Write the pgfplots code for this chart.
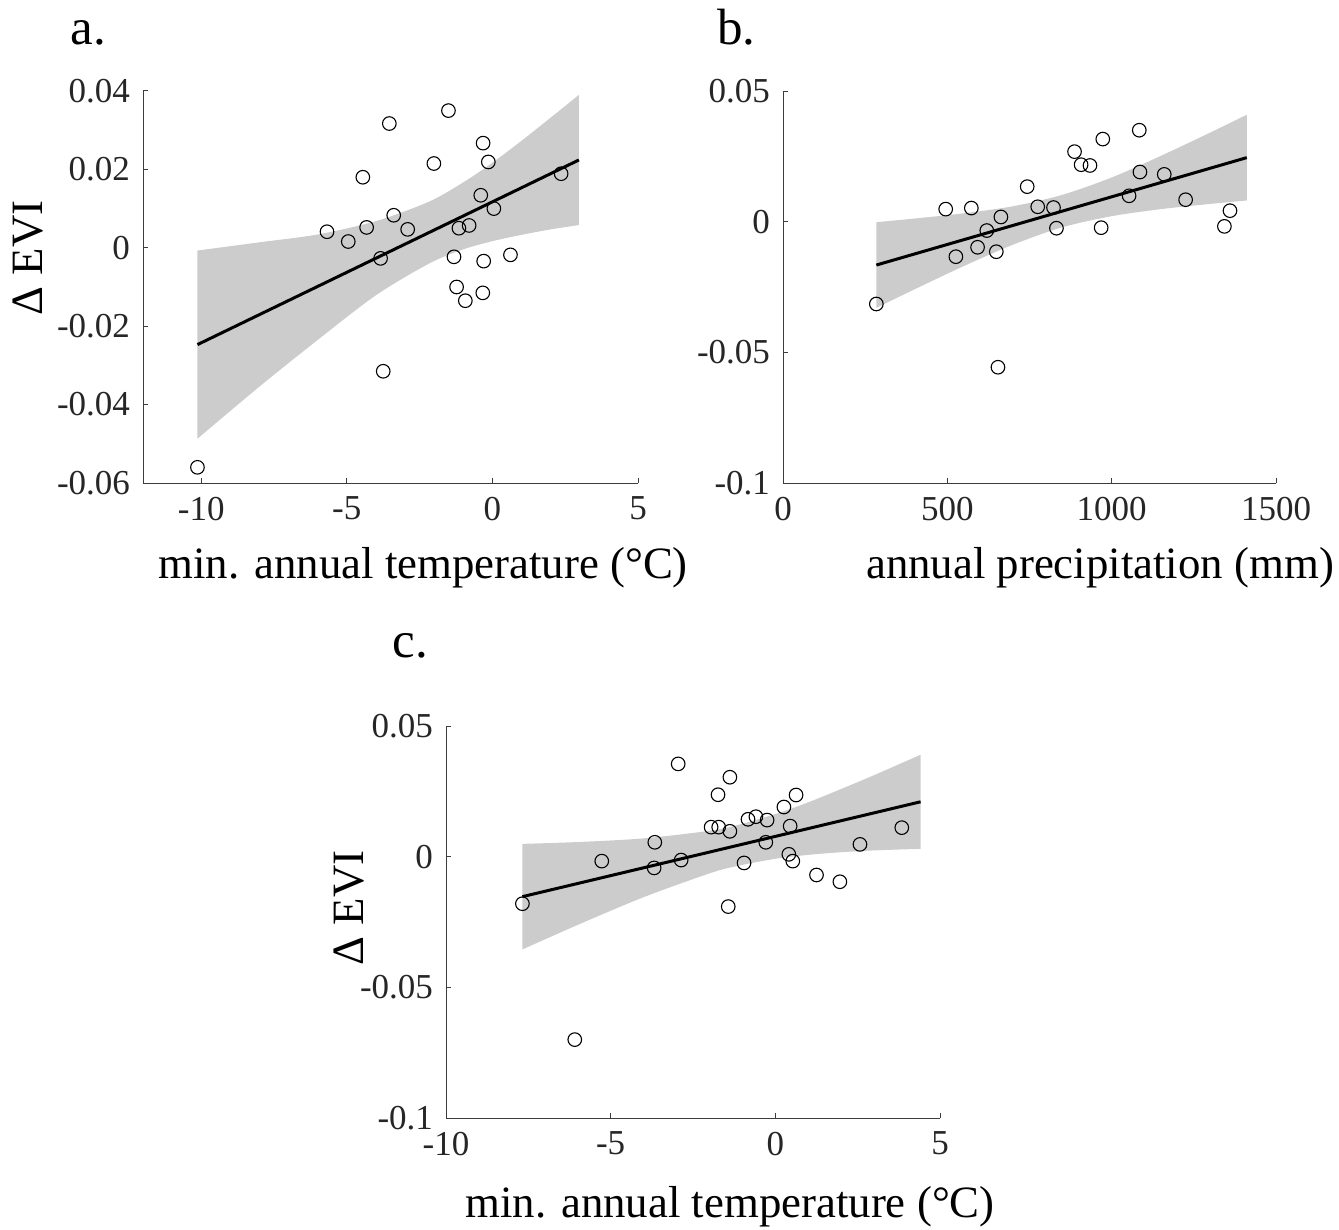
\documentclass[border=0pt]{standalone}
\usepackage{fontspec}
\setmainfont{Liberation Serif}
\usepackage{pgfplots}
\pgfplotsset{compat=1.18}
\usepgfplotslibrary{fillbetween}
\definecolor{bandgray}{RGB}{204,204,204}
\definecolor{axgray}{RGB}{60,60,60}
\definecolor{tickgray}{RGB}{38,38,38}
\pgfplotsset{
  panel/.style={
    scale only axis,
    height=196pt,
    axis x line*=bottom, axis y line*=left,
    axis line style={-, draw=axgray, line width=0.5pt},
    tick align=inside, major tick length=2.6pt,
    tick style={draw=axgray, line width=0.5pt},
    ticklabel style={font=\fontsize{17.5}{20}\selectfont, text=tickgray},
    xticklabel style={yshift=-3.5pt},
    yticklabel style={xshift=-3pt},
    label style={font=\fontsize{22.4}{26}\selectfont},
    scaled ticks=false,
    ylabel={Δ EVI},
  },
  myband/.style={draw=none, smooth},
  myfit/.style={black, line width=1.5pt},
  mypts/.style={only marks, mark=o, mark size=3.4pt, mark options={black, line width=0.55pt}},
}
\begin{document}
\begin{tikzpicture}

\node[anchor=base west, inner sep=0pt, font=\fontsize{25.5}{28}\selectfont] at (35pt,-22.5pt) {a.};
\node[anchor=base west, inner sep=0pt, font=\fontsize{25.5}{28}\selectfont] at (358.5pt,-22.5pt) {b.};
\node[anchor=base west, inner sep=0pt, font=\fontsize{25.5}{28}\selectfont] at (196pt,-328.5pt) {c.};

% ---------- panel a ----------
\begin{axis}[panel, at={(71.5pt,-241.5pt)}, anchor=south west, width=247.5pt,
  xmin=-12, xmax=5, ymin=-0.06, ymax=0.04,
  xtick={-10,-5,0,5}, xticklabels={-10,-5,0,5},
  ytick={-0.06,-0.04,-0.02,0,0.02,0.04},
  yticklabels={-0.06,-0.04,-0.02,0,0.02,0.04},
  xlabel={min. annual temperature (°C)},
  xlabel style={at={(axis description cs:0.566,-0.217)}, anchor=center},
  ylabel style={at={(axis description cs:-0.232,0.574)}, anchor=center},
]
\addplot[myband, name path=aup] coordinates {(-10.13,-0.0007) (-8,0.0014) (-6,0.0034) (-4,0.0068) (-2.17,0.0118) (-1,0.0167) (0,0.0217) (1,0.0273) (2,0.0332) (2.97,0.0390)};
\addplot[myband, name path=alo] coordinates {(-10.13,-0.0487) (-8,-0.0354) (-6,-0.0235) (-4,-0.0121) (-2.17,-0.0040) (-1,-0.0004) (0,0.0017) (1,0.0033) (2,0.0047) (2.97,0.0058)};
\addplot[bandgray, draw=none] fill between[of=aup and alo];
\addplot[myfit] coordinates {(-10.13,-0.0247) (2.97,0.0224)};
\addplot[mypts] coordinates {
(-10.13,-0.0560) (-5.68,0.0041) (-4.95,0.0016) (-4.32,0.0052) (-4.45,0.0180)
(-3.54,0.0317) (-3.39,0.0083) (-3.84,-0.0027) (-3.75,-0.0315) (-2.91,0.0047)
(-2.01,0.0215) (-1.51,0.0350) (-1.32,-0.0023) (-1.23,-0.0100) (-1.15,0.0050)
(-0.93,-0.0135) (-0.80,0.0057) (-0.32,0.0267) (-0.14,0.0219) (-0.40,0.0134)
(0.05,0.0100) (-0.30,-0.0034) (-0.33,-0.0115) (0.62,-0.0018) (2.36,0.0189)};
\end{axis}

% ---------- panel b ----------
\begin{axis}[panel, at={(391.5pt,-241.5pt)}, anchor=south west, width=246.5pt,
  xmin=0, xmax=1500, ymin=-0.1, ymax=0.05,
  xtick={0,500,1000,1500}, xticklabels={0,500,1000,1500},
  ytick={-0.1,-0.05,0,0.05}, yticklabels={-0.1,-0.05,0,0.05},
  xlabel={annual precipitation (mm)},
  xlabel style={at={(axis description cs:0.643,-0.217)}, anchor=center},
  ylabel={},
]
\addplot[myband, name path=bup] coordinates {(284,-0.0002) (400,0.0012) (550,0.0032) (700,0.0059) (848,0.0102) (1000,0.0169) (1150,0.0252) (1300,0.0341) (1411,0.0409)};
\addplot[myband, name path=blo] coordinates {(284,-0.0330) (400,-0.0259) (550,-0.0170) (700,-0.0088) (848,-0.0022) (1000,0.0021) (1150,0.0048) (1300,0.0068) (1411,0.0081)};
\addplot[bandgray, draw=none] fill between[of=bup and blo];
\addplot[myfit] coordinates {(284,-0.0166) (1411,0.0245)};
\addplot[mypts] coordinates {
(284,-0.0315) (495,0.0048) (573,0.0052) (526,-0.0134) (592,-0.0098)
(620,-0.0034) (649,-0.0115) (663,0.0018) (654,-0.0557) (743,0.0134)
(775,0.0057) (823,0.0054) (832,-0.0025) (887,0.0268) (907,0.0218)
(934,0.0215) (973,0.0316) (968,-0.0023) (1053,0.0099) (1084,0.0350)
(1086,0.0190) (1160,0.0181) (1225,0.0084) (1343,-0.0018) (1360,0.0042)};
\end{axis}

% ---------- panel c ----------
\begin{axis}[panel, at={(223pt,-559pt)}, anchor=south west, width=247pt,
  xmin=-10, xmax=5, ymin=-0.1, ymax=0.05,
  xtick={-10,-5,0,5}, xticklabels={-10,-5,0,5},
  ytick={-0.1,-0.05,0,0.05}, yticklabels={-0.1,-0.05,0,0.05},
  xlabel={min. annual temperature (°C)},
  xlabel style={at={(axis description cs:0.575,-0.227)}, anchor=center},
  ylabel style={at={(axis description cs:-0.196,0.536)}, anchor=center},
]
\addplot[myband, name path=cup] coordinates {(-7.68,0.0049) (-6,0.0056) (-4,0.0070) (-2,0.0099) (-1.21,0.0119) (0,0.0163) (1,0.0208) (2,0.0259) (3,0.0312) (4.41,0.0390)};
\addplot[myband, name path=clo] coordinates {(-7.68,-0.0355) (-6,-0.0261) (-4,-0.0155) (-2,-0.0064) (-1.21,-0.0037) (0,-0.0008) (1,0.0007) (2,0.0017) (3,0.0024) (4.41,0.0030)};
\addplot[bandgray, draw=none] fill between[of=cup and clo];
\addplot[myfit] coordinates {(-7.68,-0.0153) (4.41,0.0210)};
\addplot[mypts] coordinates {
(-7.68,-0.0180) (-6.09,-0.0700) (-5.27,-0.0017) (-3.66,0.0055) (-3.68,-0.0043)
(-2.95,0.0355) (-2.86,-0.0013) (-1.95,0.0113) (-1.72,0.0113) (-1.74,0.0237)
(-1.38,0.0304) (-1.38,0.0097) (-1.43,-0.0191) (-0.95,-0.0024) (-0.83,0.0143)
(-0.59,0.0153) (-0.25,0.0140) (-0.29,0.0055) (0.26,0.0190) (0.45,0.0117)
(0.41,0.0009) (0.53,-0.0017) (0.63,0.0236) (1.25,-0.0070) (1.96,-0.0096)
(2.57,0.0047) (3.84,0.0111)};
\end{axis}

\pgfresetboundingbox
\useasboundingbox (0,0) rectangle (669.5pt,-615pt);
\end{tikzpicture}
\end{document}
